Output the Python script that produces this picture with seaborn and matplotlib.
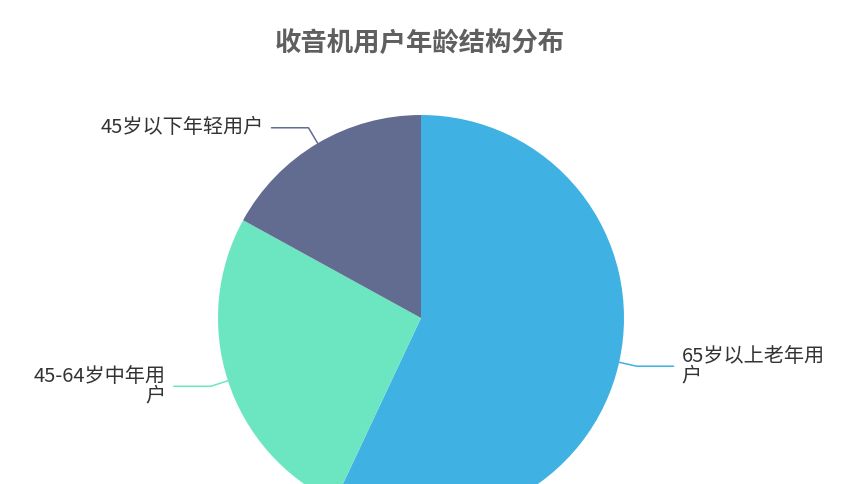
import numpy as np
import matplotlib
matplotlib.use("Agg")
import matplotlib.pyplot as plt
import seaborn as sns

# data (share of radio listeners by age group, %)
labels = ["65岁以上老年用\n户", "45-64岁中年用\n户", "45岁以下年轻用户"]
values = [57, 26, 17]
colors = ["#3fb1e3", "#6be6c1", "#626c91"]
title = "收音机用户年龄结构分布"

sns.set_theme(style="white")
plt.rcParams["font.family"] = ["Noto Sans CJK SC", "DejaVu Sans"]

W, H = 859, 484
fig = plt.figure(figsize=(W / 100, H / 100), dpi=100)
ax = fig.add_axes([0, 0, 1, 1])

cx, cy, r = 421, H - 318, 203
wedges, _ = ax.pie(values, colors=colors, startangle=90, counterclock=False,
                   radius=r, center=(cx, cy), frame=True,
                   wedgeprops=dict(linewidth=0, edgecolor="none"))
ax.set_xlim(0, W)
ax.set_ylim(0, H)
ax.set_aspect("equal")
ax.axis("off")

# leader lines + labels
for w, lab, col in zip(wedges, labels, colors):
    ang = np.deg2rad((w.theta1 + w.theta2) / 2)
    dx, dy = np.cos(ang), np.sin(ang)
    x0, y0 = cx + r * dx, cy + r * dy
    x1, y1 = cx + (r + 18) * dx, cy + (r + 18) * dy
    side = 1 if dx >= 0 else -1
    x2 = x1 + side * 37
    ax.plot([x0, x1, x2], [y0, y1, y1], color=col, lw=1.1, solid_capstyle="round")
    ax.text(x2 + side * 8, y1, lab, ha="left" if side > 0 else "right",
            va="center", multialignment="left" if side > 0 else "right",
            fontsize=14.5, color="#333333", linespacing=0.95)

fig.text(420 / W, 1 - 43 / H, title, ha="center", va="center",
         fontsize=19, fontweight="bold", color="#5f5f5f")

fig.savefig("out.png", dpi=100, facecolor="white")
